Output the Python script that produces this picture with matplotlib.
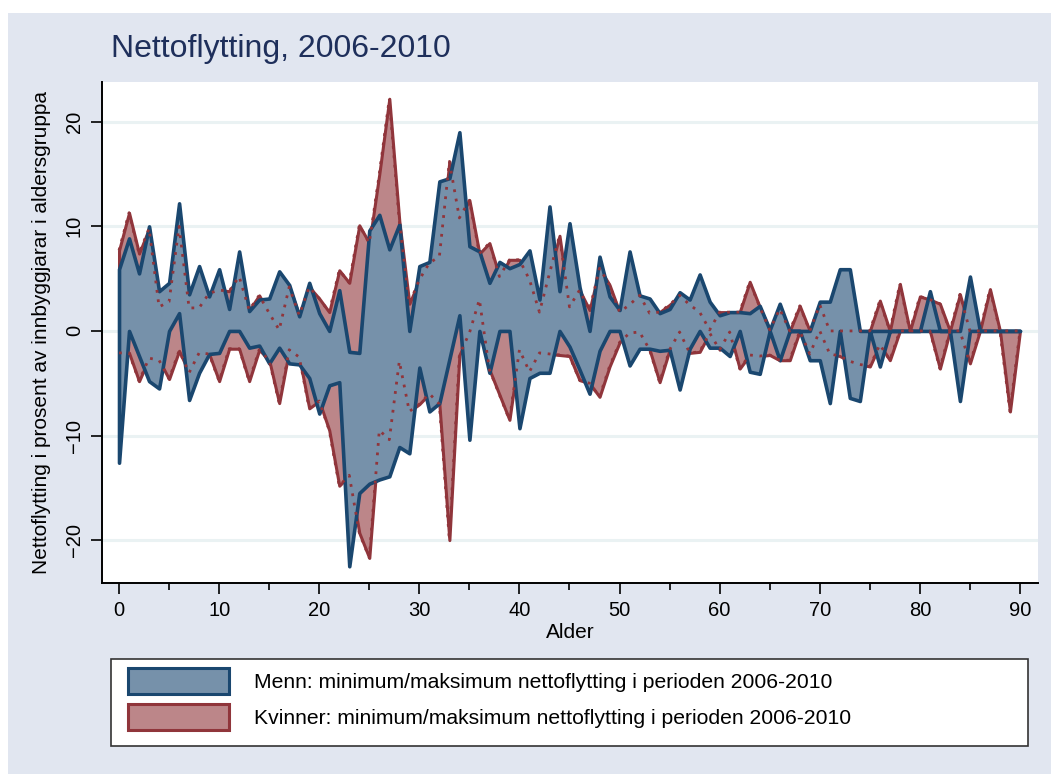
import numpy as np
import matplotlib.pyplot as plt
from matplotlib.patches import Patch, Rectangle
from matplotlib.ticker import MultipleLocator

plt.rcParams['font.family'] = ['Liberation Sans', 'DejaVu Sans']

alder = np.arange(0, 91)

# menn: maksimum / minimum nettoflytting 2006-2010
menn_max = [5.9, 8.85, 5.5, 10.0, 3.8, 4.6, 12.2, 3.5, 6.2, 3.3,
            5.9, 2.1, 7.6, 1.9, 3.0, 3.1, 5.7, 4.4, 1.4, 4.6,
            1.7, 0.0, 3.9, -2.0, -2.1, 9.6, 11.1, 7.8, 10.2, 0.0,
            6.2, 6.6, 14.3, 14.6, 19.0, 8.1, 7.6, 4.6, 6.6, 6.0,
            6.4, 7.7, 3.0, 11.9, 3.8, 10.3, 4.2, 0.0, 7.1, 3.3,
            2.0, 7.6, 3.4, 3.1, 1.7, 2.1, 3.7, 3.0, 5.4, 2.8,
            1.5, 1.8, 1.8, 1.7, 2.4, 0.1, 2.6, 0.0, 0.0, 0.0,
            2.8, 2.8, 5.9, 5.9, 0.0, 0.0, 0.0, 0.0, 0.0, 0.0,
            0.0, 3.8, 0.0, 0.0, 0.0, 5.2, 0.0, 0.0, 0.0, 0.0,
            0.0]
menn_min = [-12.6, 0.0, -2.4, -4.8, -5.5, 0.0, 1.7, -6.6, -4.0, -2.2,
            -2.1, 0.0, 0.0, -1.6, -1.4, -3.1, -1.6, -3.1, -3.2, -4.5,
            -7.9, -5.2, -4.9, -22.5, -15.5, -14.6, -14.2, -13.9, -11.1, -11.7,
            -3.5, -7.7, -6.9, -2.7, 1.5, -10.4, 0.0, -4.0, 0.0, 0.0,
            -9.3, -4.5, -4.0, -4.0, 0.0, -1.5, -3.7, -6.0, -1.9, 0.0,
            0.0, -3.3, -1.7, -1.7, -1.9, -1.8, -5.6, -1.7, 0.0, -1.6,
            -1.6, -2.4, 0.0, -3.9, -4.1, 0.0, -2.8, 0.0, 0.0, -2.8,
            -2.8, -6.9, 0.0, -6.4, -6.7, 0.0, -3.4, 0.0, 0.0, 0.0,
            0.0, 0.0, 0.0, 0.0, -6.7, 0.0, 0.0, 0.0, 0.0, 0.0,
            0.0]

# kvinner
kvinner_max = [7.7, 11.3, 7.4, 9.8, 2.3, 2.8, 10.0, 2.2, 2.2, 3.6,
               3.9, 3.8, 5.2, 2.0, 3.4, 1.7, 0.1, 4.2, 1.5, 4.2,
               3.1, 1.8, 5.8, 4.6, 10.1, 8.4, 15.0, 22.2, 10.5, 2.6,
               4.9, 6.5, 7.1, 16.2, 10.8, 12.5, 7.4, 8.4, 5.2, 6.8,
               6.8, 4.9, 1.8, 5.5, 9.1, 2.3, 3.9, 2.0, 6.0, 4.4,
               1.8, 2.5, 3.4, 1.7, 1.8, 2.5, 3.4, 2.5, 1.8, 0.1,
               1.8, 1.8, 1.8, 4.7, 2.3, 0.1, 2.1, 0.0, 2.4, 0.0,
               2.5, 0.0, 0.0, 0.0, 0.0, 0.0, 2.9, 0.0, 4.5, 0.0,
               3.3, 3.0, 2.6, 0.0, 3.5, 0.0, 0.0, 4.0, 0.0, 0.0,
               0.0]
kvinner_min = [-2.1, -2.1, -4.8, -2.6, -2.8, -4.6, -1.9, -4.0, -2.1, -2.2,
               -4.8, -1.7, -1.7, -4.8, -1.8, -2.8, -6.9, -1.8, -2.5, -7.4,
               -6.7, -9.5, -14.8, -13.8, -19.3, -21.7, -9.5, -10.4, -2.9, -7.7,
               -7.0, -6.0, -7.0, -20.0, -2.3, -0.2, 3.0, -3.7, -6.1, -8.5,
               -1.8, -3.9, -2.1, -2.2, -2.3, -2.4, -4.7, -5.0, -6.3, -3.4,
               -1.1, -0.2, -0.1, -1.8, -4.9, -1.8, -0.1, -2.1, -2.0, -0.2,
               -1.8, -0.1, -3.6, -2.3, -2.4, -2.3, -2.8, -2.8, 0.0, -2.2,
               0.0, -2.2, -2.4, -2.9, -3.2, -3.4, -1.3, -2.8, 0.0, 0.0,
               0.0, 0.0, -3.6, 0.0, 0.0, -3.1, 0.0, 0.0, 0.0, -7.7,
               0.0]

navy = '#1A476F'
navy_fill = '#7691AA'
maroon = '#90353B'
maroon_fill = '#BC8689'
bg = '#E1E6F0'
W, H = 1051, 774

fig = plt.figure(figsize=(W/100, H/100), dpi=100)
fig.patch.set_facecolor('white')
fig.patches.append(Rectangle((8/W, 0), 1, 1 - 13/H, transform=fig.transFigure,
                             facecolor=bg, edgecolor='none', zorder=-10))

ax = fig.add_axes([102/W, 1 - 583/H, 936/W, 501/H])
ax.set_facecolor('white')

for yv in [-20, -10, 0, 10, 20]:
    ax.axhline(yv, color='#EAF2F3', lw=2.2, zorder=0)

ax.fill_between(alder, kvinner_min, kvinner_max, facecolor=maroon_fill,
                edgecolor=maroon, lw=2.2, zorder=2)
ax.fill_between(alder, menn_min, menn_max, facecolor=navy_fill,
                edgecolor=navy, lw=2.6, zorder=3)
ax.plot(alder, kvinner_max, color=maroon, ls=(0, (1, 2.4)), lw=2.0, zorder=4)
ax.plot(alder, kvinner_min, color=maroon, ls=(0, (1, 2.4)), lw=2.0, zorder=4)

ax.set_xlim(-1.7, 91.8)
ax.set_ylim(-24.1, 23.8)
ax.xaxis.set_major_locator(MultipleLocator(10))
ax.xaxis.set_minor_locator(MultipleLocator(5))
ax.set_yticks([-20, -10, 0, 10, 20])
ax.tick_params(axis='both', which='major', length=8, width=1.2, labelsize=14.5)
ax.tick_params(axis='x', which='major', pad=5)
ax.tick_params(axis='x', which='minor', length=5, width=1.2)
ax.tick_params(axis='y', which='major', labelrotation=90, pad=5)
for lab in ax.get_yticklabels():
    lab.set_va('center')

for side in ['top', 'right']:
    ax.spines[side].set_visible(False)
for side in ['left', 'bottom']:
    ax.spines[side].set_linewidth(1.4)

ax.set_xlabel('Alder', fontsize=15, labelpad=2)
ax.set_ylabel('Nettoflytting i prosent av innbyggjarar i aldersgruppa', fontsize=15, labelpad=10)

fig.text(111/W, 1 - 49/H, 'Nettoflytting, 2006-2010', fontsize=23,
         color='#1E2F5B', va='center', ha='left')

# legend box drawn separately so that box and keys sit where they should
fig.patches.append(Rectangle((111/W, 1 - 746/H), 917/W, 87/H, transform=fig.transFigure,
                             facecolor='white', edgecolor='#333333', lw=1.2, zorder=5))
handles = [Patch(facecolor=navy_fill, edgecolor=navy, lw=2.2),
           Patch(facecolor=maroon_fill, edgecolor=maroon, lw=2.2)]
labels = ['Menn: minimum/maksimum nettoflytting i perioden 2006-2010',
          'Kvinner: minimum/maksimum nettoflytting i perioden 2006-2010']
leg = fig.legend(handles, labels, loc='upper left',
                 bbox_to_anchor=(128/W, 1 - 668/H),
                 fontsize=15.2, frameon=False, handlelength=4.8,
                 handleheight=1.55, handletextpad=1.15, labelspacing=0.45,
                 borderpad=0, borderaxespad=0)
leg.set_zorder(6)

fig.savefig('out.png', dpi=100)
